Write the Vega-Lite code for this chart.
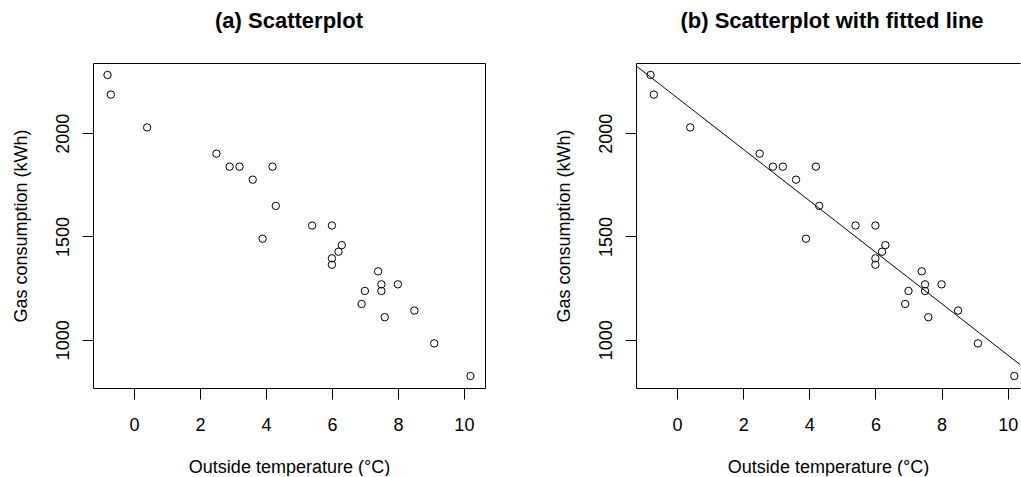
{
  "$schema": "https://vega.github.io/schema/vega-lite/v6.json",
  "padding": {"left": 12, "top": 10, "right": 0, "bottom": 0},
  "autosize": {"type": "pad"},
  "background": "white",
  "config": {
    "font": "Liberation Sans",
    "view": {"stroke": null},
    "axis": {
      "grid": false,
      "domainColor": "black",
      "tickColor": "black",
      "labelColor": "black",
      "titleColor": "black",
      "labelFontSize": 18,
      "titleFontSize": 18,
      "titleFontWeight": "normal",
      "tickSize": 11,
      "labelFont": "Liberation Sans",
      "titleFont": "Liberation Sans",
      "domainWidth": 1,
      "tickWidth": 1
    },
    "axisX": {"labelPadding": 17, "titlePadding": 24, "labelFlush": false},
    "axisY": {"labelAngle": 270, "labelAlign": "center", "labelBaseline": "alphabetic", "labelPadding": 14, "titlePadding": 24, "labelFlush": false, "format": "d"},
    "title": {"fontSize": 22, "fontWeight": "bold", "font": "Liberation Sans", "color": "black", "anchor": "middle", "offset": 30},
    "concat": {"spacing": 70}
  },
  "datasets": {
    "gas": [
      {"temp": -0.8, "gas": 2282},
      {"temp": -0.7, "gas": 2187},
      {"temp": 0.4, "gas": 2028},
      {"temp": 2.5, "gas": 1901},
      {"temp": 2.9, "gas": 1838},
      {"temp": 3.2, "gas": 1838},
      {"temp": 3.6, "gas": 1775},
      {"temp": 3.9, "gas": 1489},
      {"temp": 4.2, "gas": 1838},
      {"temp": 4.3, "gas": 1648},
      {"temp": 5.4, "gas": 1553},
      {"temp": 6.0, "gas": 1553},
      {"temp": 6.0, "gas": 1363},
      {"temp": 6.0, "gas": 1394},
      {"temp": 6.2, "gas": 1426},
      {"temp": 6.3, "gas": 1458},
      {"temp": 6.9, "gas": 1173},
      {"temp": 7.0, "gas": 1236},
      {"temp": 7.4, "gas": 1331},
      {"temp": 7.5, "gas": 1268},
      {"temp": 7.5, "gas": 1236},
      {"temp": 7.6, "gas": 1109},
      {"temp": 8.0, "gas": 1268},
      {"temp": 8.5, "gas": 1141},
      {"temp": 9.1, "gas": 982},
      {"temp": 10.2, "gas": 824}
    ]
  },
  "hconcat": [
    {
      "title": {"text": "(a) Scatterplot"},
      "width": 392,
      "height": 325,
      "data": {"name": "gas"},
      "layer": [
        {
          "mark": {"type": "point", "shape": "circle", "filled": false, "color": "black", "size": 55, "strokeWidth": 1, "opacity": 1},
          "encoding": {
            "x": {"field": "temp", "type": "quantitative", "scale": {"domain": [-1.24, 10.64], "nice": false, "zero": false}, "axis": {"title": "Outside temperature (°C)", "values": [0, 2, 4, 6, 8, 10]}},
            "y": {"field": "gas", "type": "quantitative", "scale": {"domain": [766, 2340], "nice": false, "zero": false}, "axis": {"title": "Gas consumption (kWh)", "values": [1000, 1500, 2000]}}
          }
        },
        {
          "mark": {"type": "point", "opacity": 0},
          "encoding": {
            "x": {"field": "temp", "type": "quantitative", "axis": {"orient": "top", "labels": false, "ticks": false, "title": null, "domain": true}},
            "y": {"field": "gas", "type": "quantitative", "axis": {"orient": "right", "labels": false, "ticks": false, "title": null, "domain": true}}
          }
        }
      ],
      "resolve": {"axis": {"x": "independent", "y": "independent"}}
    },
    {
      "title": {"text": "(b) Scatterplot with fitted line", "dx": 4},
      "width": 384,
      "height": 325,
      "data": {"name": "gas"},
      "layer": [
        {
          "mark": {"type": "point", "shape": "circle", "filled": false, "color": "black", "size": 55, "strokeWidth": 1, "opacity": 1},
          "encoding": {
            "x": {"field": "temp", "type": "quantitative", "scale": {"domain": [-1.24, 10.372], "nice": false, "zero": false}, "axis": {"title": "Outside temperature (°C)", "values": [0, 2, 4, 6, 8, 10]}},
            "y": {"field": "gas", "type": "quantitative", "scale": {"domain": [766, 2340], "nice": false, "zero": false}, "axis": {"title": "Gas consumption (kWh)", "values": [1000, 1500, 2000]}}
          }
        },
        {
          "transform": [{"regression": "gas", "on": "temp", "extent": [-1.24, 10.64]}],
          "mark": {"type": "line", "color": "black", "strokeWidth": 1, "clip": true},
          "encoding": {
            "x": {"field": "temp", "type": "quantitative", "axis": {"orient": "top", "labels": false, "ticks": false, "title": null, "domain": true}},
            "y": {"field": "gas", "type": "quantitative"}
          }
        }
      ],
      "resolve": {"axis": {"x": "independent"}}
    }
  ]
}
